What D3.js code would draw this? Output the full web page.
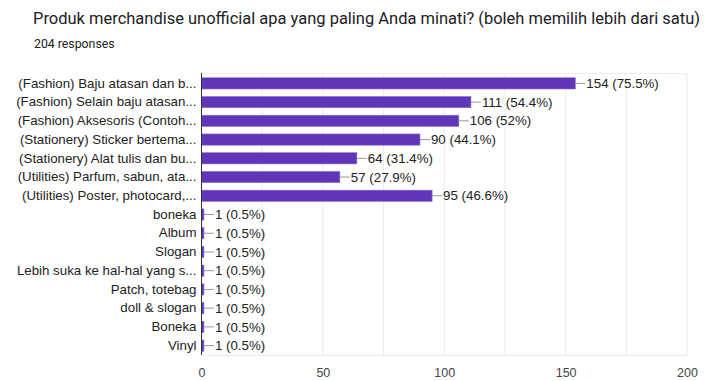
<!DOCTYPE html>
<html>
<head>
<meta charset="utf-8">
<script src="https://cdn.jsdelivr.net/npm/d3@7"></script>
<style>
  html, body { margin: 0; padding: 0; background: #fff; }
  svg { display: block; }
</style>
</head>
<body>
<svg id="chart" width="707" height="381"></svg>
<script>
// Survey answers (labels truncated as shown in the form summary)
const categories = [
  "(Fashion) Baju atasan dan b...",
  "(Fashion) Selain baju atasan...",
  "(Fashion) Aksesoris (Contoh...",
  "(Stationery) Sticker bertema...",
  "(Stationery) Alat tulis dan bu...",
  "(Utilities) Parfum, sabun, ata...",
  "(Utilities) Poster, photocard,...",
  "boneka",
  "Album",
  "Slogan",
  "Lebih suka ke hal-hal yang s...",
  "Patch, totebag",
  "doll & slogan",
  "Boneka",
  "Vinyl"
];
const counts = [154, 111, 106, 90, 64, 57, 95, 1, 1, 1, 1, 1, 1, 1, 1];
const percents = ["75.5", "54.4", "52", "44.1", "31.4", "27.9", "46.6", "0.5", "0.5", "0.5", "0.5", "0.5", "0.5", "0.5", "0.5"];
const tickValues = [0, 50, 100, 150, 200];
const gridValues = [25, 50, 75, 100, 125, 150, 175, 200];

const title = "Produk merchandise unofficial apa yang paling Anda minati? (boleh memilih lebih dari satu)";
const subtitle = "204 responses";

const svg = d3.select("#chart");

const x = d3.scaleLinear().domain([0, 200]).range([201.5, 687]);
const y = d3.scaleBand().domain(categories).range([74, 355]).paddingInner(0.4).paddingOuter(0.2);

// Heading
svg.append("text")
  .attr("x", 33).attr("y", 24)
  .attr("font-family", "Roboto, 'Open Sans', sans-serif")
  .attr("font-size", 16)
  .attr("fill", "#202124")
  .attr("textLength", 667)
  .attr("lengthAdjust", "spacingAndGlyphs")
  .text(title);

svg.append("text")
  .attr("x", 34).attr("y", 48)
  .attr("font-family", "Roboto, 'Open Sans', sans-serif")
  .attr("font-size", 12.3)
  .attr("fill", "#202124")
  .text(subtitle);

// Grid
const plotTop = 73, plotBottom = 355;
svg.append("g").selectAll("line").data(gridValues).join("line")
  .attr("x1", d => x(d)).attr("x2", d => x(d))
  .attr("y1", plotTop).attr("y2", plotBottom)
  .attr("stroke", "#ebebeb").attr("stroke-width", 1);
svg.append("g").selectAll("line").data([plotTop, plotBottom]).join("line")
  .attr("x1", x(0)).attr("x2", x(200))
  .attr("y1", d => d + 0.5).attr("y2", d => d + 0.5)
  .attr("stroke", "#ebebeb").attr("stroke-width", 1);

// Bars
const rowH = y.bandwidth();
svg.append("g").selectAll("rect").data(counts).join("rect")
  .attr("x", x(0))
  .attr("y", (d, i) => y(categories[i]))
  .attr("width", d => x(d) - x(0))
  .attr("height", rowH)
  .attr("fill", "#6035b8")
  .attr("stroke", "#8c6fd6")
  .attr("stroke-width", 0.6);

// Baseline axis
svg.append("line")
  .attr("x1", x(0)).attr("x2", x(0))
  .attr("y1", plotTop).attr("y2", plotBottom)
  .attr("stroke", "#333").attr("stroke-width", 1);

// Value annotations with leader lines
const ann = svg.append("g").selectAll("g").data(counts).join("g")
  .attr("transform", (d, i) => `translate(${x(d)},${y(categories[i]) + rowH / 2})`);
ann.append("line")
  .attr("x1", 0).attr("x2", 10).attr("y1", 0).attr("y2", 0)
  .attr("stroke", "#999").attr("stroke-width", 1);
ann.append("text")
  .attr("x", 11).attr("y", 0).attr("dy", "0.35em")
  .attr("font-family", "'Liberation Sans', Arial, sans-serif")
  .attr("font-size", 13.3)
  .attr("fill", "#222")
  .text((d, i) => `${d} (${percents[i]}%)`);

// Category labels
const yAxis = d3.axisLeft(y).tickSize(0).tickPadding(5);
const gy = svg.append("g").attr("transform", `translate(${x(0)},0)`).call(yAxis);
gy.select(".domain").remove();
gy.selectAll("text")
  .attr("font-family", "'Liberation Sans', Arial, sans-serif")
  .attr("font-size", 13.3)
  .attr("fill", "#222");

// X axis ticks
const xAxis = d3.axisBottom(x).tickValues(tickValues).tickSize(0).tickPadding(13);
const gx = svg.append("g").attr("transform", `translate(0,${plotBottom})`).call(xAxis);
gx.select(".domain").remove();
gx.selectAll("text")
  .attr("font-family", "'Liberation Sans', Arial, sans-serif")
  .attr("font-size", 12.5)
  .attr("fill", "#444");
</script>
</body>
</html>
